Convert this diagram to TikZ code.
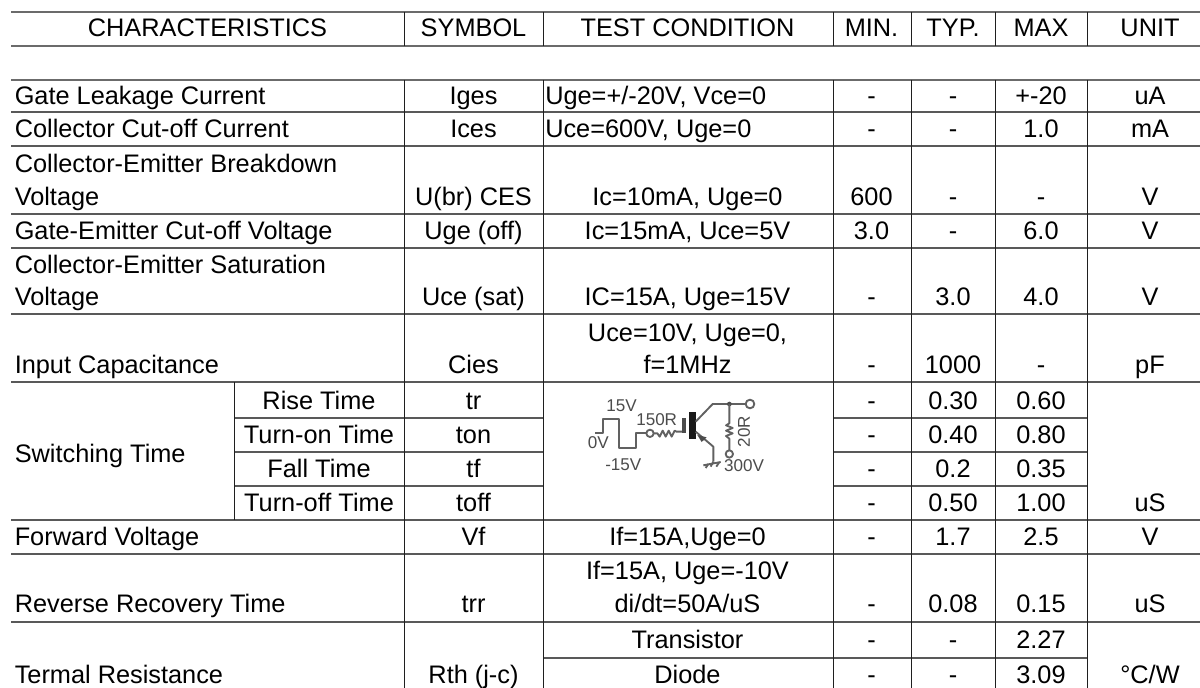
\documentclass[tikz,border=0pt]{standalone}
\usepackage{fontspec}
\setmainfont{Liberation Sans}
\newcommand{\cellfont}{\fontsize{19}{19}\selectfont}
\newcommand{\circfont}{\fontsize{12.8}{12.8}\selectfont}
\tikzset{
  hline/.style={draw=black!65,line width=1.1pt},
  hthick/.style={draw=black!58,line width=1.4pt},
  vline/.style={draw=black!88,line width=0.75pt},
  cellc/.style={anchor=base,inner sep=0pt,text=black,font=\cellfont},
  celll/.style={anchor=base west,inner sep=0pt,text=black,font=\cellfont},
  wire/.style={draw=black!62,line width=1.4pt,line join=round},
  ckt/.style={inner sep=0pt,text=black!70,font=\circfont}
}
% name prefix, baseline, symbol, test, min, typ, max, unit
\newcommand{\rowcells}[8]{%
  \node[cellc] (#1sym) at (473.5,#2) {#3};
  \node[cellc] (#1tst) at (687.5,#2) {#4};
  \node[cellc] (#1min) at (871.5,#2) {#5};
  \node[cellc] (#1typ) at (953,#2) {#6};
  \node[cellc] (#1max) at (1041,#2) {#7};
  \node[cellc] (#1uni) at (1150,#2) {#8};
}
\begin{document}
\begin{tikzpicture}[x=0.75pt,y=-0.75pt]
\useasboundingbox (0,0) rectangle (1200,688);
\fill[white] (0,0) rectangle (1200,688);
% horizontal rules
\draw[hthick] (11,12) -- (1200,12);
\draw[hthick] (11,46) -- (1200,46);
\draw[hthick] (11,80) -- (1200,80);
\foreach \y in {112,146,214,248,314,382,520,554,622}
  \draw[hline] (11,\y) -- (1200,\y);
\foreach \y in {418,452,486} {
  \draw[hline] (234,\y) -- (543,\y);
  \draw[hline] (833,\y) -- (1087,\y);
}
\draw[hline] (543,658) -- (1087,658);
% vertical rules
\foreach \x in {404,543,833,911,995,1087} {
  \draw[vline] (\x,12) -- (\x,46);
  \draw[vline] (\x,80) -- (\x,688);
}
\draw[vline] (234,382) -- (234,520);
% header
\node[cellc] (hchar) at (207.5,37) {CHARACTERISTICS};
\rowcells{h}{37}{SYMBOL}{TEST CONDITION}{MIN.}{TYP.}{MAX}{UNIT}
% rows
\node[celll] (r1c) at (14.5,105) {Gate Leakage Current};
\node[cellc] (r1sym) at (473.5,105) {Iges};
\node[celll] (r1tst) at (545,105) {Uge=+/-20V, Vce=0};
\node[cellc] (r1min) at (871.5,105) {-};
\node[cellc] (r1typ) at (953,105) {-};
\node[cellc] (r1max) at (1041,105) {+-20};
\node[cellc] (r1uni) at (1150,105) {uA};
\node[celll] (r2c) at (14.5,138) {Collector Cut-off Current};
\node[cellc] (r2sym) at (473.5,138) {Ices};
\node[celll] (r2tst) at (545,138) {Uce=600V, Uge=0};
\node[cellc] (r2min) at (871.5,138) {-};
\node[cellc] (r2typ) at (953,138) {-};
\node[cellc] (r2max) at (1041,138) {1.0};
\node[cellc] (r2uni) at (1150,138) {mA};
\node[celll] (r3a) at (14.5,173) {Collector-Emitter Breakdown};
\node[celll] (r3c) at (14.5,206) {Voltage};
\rowcells{r3}{206}{U(br) CES}{Ic=10mA, Uge=0}{600}{-}{-}{V}
\node[celll] (r4c) at (14.5,239) {Gate-Emitter Cut-off Voltage};
\rowcells{r4}{239}{Uge (off)}{Ic=15mA, Uce=5V}{3.0}{-}{6.0}{V}
\node[celll] (r5a) at (14.5,273) {Collector-Emitter Saturation};
\node[celll] (r5c) at (14.5,305) {Voltage};
\rowcells{r5}{305}{Uce (sat)}{IC=15A, Uge=15V}{-}{3.0}{4.0}{V}
\node[cellc] (r6a) at (687.5,341) {Uce=10V, Uge=0,};
\node[celll] (r6c) at (14.5,373) {Input Capacitance};
\rowcells{r6}{373}{Cies}{f=1MHz}{-}{1000}{-}{pF}
% switching
\node[celll] (swt) at (14.5,462) {Switching Time};
\node[cellc] (s1n) at (319,409) {Rise Time};
\node[cellc] (s1sym) at (473.5,409) {tr};
\node[cellc] (s1min) at (871.5,409) {-};
\node[cellc] (s1typ) at (953,409) {0.30};
\node[cellc] (s1max) at (1041,409) {0.60};
\node[cellc] (s2n) at (319,443) {Turn-on Time};
\node[cellc] (s2sym) at (473.5,443) {ton};
\node[cellc] (s2min) at (871.5,443) {-};
\node[cellc] (s2typ) at (953,443) {0.40};
\node[cellc] (s2max) at (1041,443) {0.80};
\node[cellc] (s3n) at (319,477) {Fall Time};
\node[cellc] (s3sym) at (473.5,477) {tf};
\node[cellc] (s3min) at (871.5,477) {-};
\node[cellc] (s3typ) at (953,477) {0.2};
\node[cellc] (s3max) at (1041,477) {0.35};
\node[cellc] (s4n) at (319,511) {Turn-off Time};
\node[cellc] (s4sym) at (473.5,511) {toff};
\node[cellc] (s4min) at (871.5,511) {-};
\node[cellc] (s4typ) at (953,511) {0.50};
\node[cellc] (s4max) at (1041,511) {1.00};
\node[cellc] (s4uni) at (1150,511) {uS};
% lower rows
\node[celll] (r7c) at (14.5,545) {Forward Voltage};
\rowcells{r7}{545}{Vf}{If=15A,Uge=0}{-}{1.7}{2.5}{V}
\node[cellc] (r8a) at (687.5,579) {If=15A, Uge=-10V};
\node[celll] (r8c) at (14.5,612) {Reverse Recovery Time};
\rowcells{r8}{612}{trr}{di/dt=50A/uS}{-}{0.08}{0.15}{uS}
\node[cellc] (r9t) at (687.5,648) {Transistor};
\node[cellc] (r9min) at (871.5,648) {-};
\node[cellc] (r9typ) at (953,648) {-};
\node[cellc] (r9max) at (1041,648) {2.27};
\node[celll] (r10c) at (14.5,683) {Termal Resistance};
\node[cellc] (r10sym) at (473.5,683) {Rth (j-c)};
\node[cellc] (r10tst) at (687.5,683) {Diode};
\node[cellc] (r10min) at (871.5,683) {-};
\node[cellc] (r10typ) at (953,683) {-};
\node[cellc] (r10max) at (1041,683) {3.09};
\node[cellc] (r10uni) at (1150,683) {°C/W};
% test circuit (drawn in 3x zoom units)
\begin{scope}[shift={(520,380)},x=0.25pt,y=-0.25pt]
  \node[ckt] (v15) at (305,78) {15V};
  \node[ckt] (r150) at (410,118) {150R};
  \node[ckt] (v0) at (235,188) {0V};
  \node[ckt] (vm15) at (310,255) {-15V};
  \node[ckt] (v300) at (672,258) {300V};
  \node[ckt,rotate=90] (r20) at (672,155) {20R};
  % pulse
  \draw[wire] (225,160) -- (250,160) -- (250,118) -- (298,118) -- (298,205) -- (348,205) -- (348,160) -- (378,160);
  \draw[wire] (390,160) circle (11);
  % gate resistor
  \draw[wire] (402,160) -- (412,160) -- (419,170) -- (428,152) -- (437,170) -- (446,152) -- (455,170) -- (464,152) -- (470,155) -- (487,155);
  % transistor bars
  \fill[black!70] (485,115) rectangle (497,160);
  \fill[black!90] (507,97) rectangle (527,178);
  % collector
  \draw[wire] (527,125) -- (578,72) -- (678,72);
  \draw[wire] (690,72) circle (13);
  \fill[black!70] (628,72) circle (7);
  % emitter
  \draw[wire] (527,155) -- (580,200) -- (580,245);
  \fill[black!70] (532,165) -- (560,172) -- (545,186) -- cycle;
  % ground
  \draw[wire] (550,256) -- (602,246);
  \draw[wire] (580,245) -- (572,260);
  \draw[wire] (565,252) -- (557,264);
  \draw[wire] (597,248) -- (589,260);
  % snubber resistor
  \draw[wire] (628,72) -- (628,130) -- (618,136) -- (638,144) -- (618,152) -- (638,160) -- (618,168) -- (628,176) -- (628,210);
  \draw[wire] (628,222) circle (11);
\end{scope}
\end{tikzpicture}
\end{document}
